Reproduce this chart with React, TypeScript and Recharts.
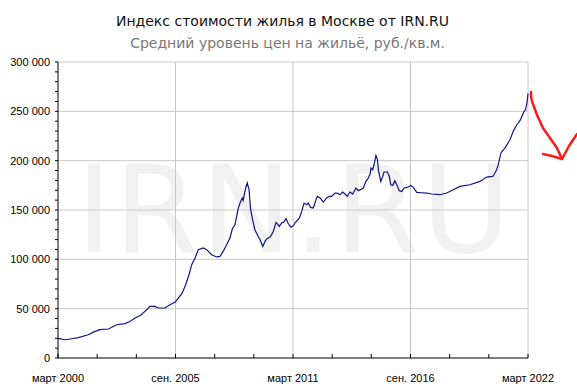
import { LineChart, Line, XAxis, YAxis, CartesianGrid } from 'recharts'

// months since March 2000
const months = [
  0, 3.9, 7.7, 11.4, 17, 20.8, 23.6, 28.3, 33, 37.6, 40.4, 43.3, 46.6, 50.9, 51.5, 54.5, 56.2, 60.1,
  62.9, 65.7, 67.6, 69.8, 71.7, 73.6, 75.1, 77, 78.8, 81.6, 83.5, 86.3, 89.1, 91, 92.8, 94.7, 96.6,
  97.9, 99.4, 101.3, 102.6, 103.5, 104, 105.4, 106.3, 107.3, 108.2, 109.3, 110.6, 112.5, 113.5, 115,
  116.3, 117.2, 119.1, 120, 120.9, 122.5, 123.2, 124.3, 125.6, 126.6, 128.1, 129.4, 130.7, 132.2,
  133.1, 135.6, 136.9, 138.2, 139.7, 140.6, 141.9, 143.4, 144.9, 145.7, 147.2, 149, 150.9, 152.4,
  153.7, 155.6, 156.9, 158.4, 159.9, 161.2, 162.5, 164, 165.5, 167.4, 168.7, 170, 171.5, 173, 174.3,
  175.3, 175.8, 176.8, 177.7, 178.6, 179.4, 180.1, 181.3, 182.4, 183.1, 185, 186.1, 186.9, 188,
  189.2, 190.3, 191.7, 193.1, 194.4, 196.2, 198.1, 199.6, 201.5, 204.3, 207.1, 209.9, 214.6, 218.3,
  222, 225.8, 231.4, 237, 240.8, 244.2, 245.1, 246.4, 247.3, 248.8, 251, 253.9, 255.7, 257.7, 259.5,
  261.4, 262.7, 263.4, 264,
]

// руб./кв.м.
const prices = [
  19800, 18500, 19500, 20600, 23600, 27000, 28700, 29400, 33700, 34800, 37000, 40500, 43600, 50700,
  52300, 52300, 50700, 50700, 54000, 56400, 60800, 65900, 74300, 84400, 94600, 101400, 109800,
  111500, 109800, 104700, 102400, 103000, 108000, 114800, 121600, 130700, 135000, 152000, 158700,
  162200, 159700, 172300, 177400, 170600, 150300, 140200, 130000, 123200, 119900, 113100, 118200,
  120600, 122600, 125000, 128300, 137400, 136000, 133400, 136800, 137400, 141200, 136000, 132800,
  134000, 136800, 141900, 148600, 157000, 155400, 157000, 152600, 152000, 160400, 163800, 162200,
  158000, 162200, 163800, 163800, 167200, 167200, 165500, 168200, 166200, 163800, 168200, 166200,
  172300, 169600, 170600, 172300, 179000, 182400, 186500, 192600, 190800, 197600, 205300, 201000,
  189100, 179000, 184000, 188500, 188500, 184000, 175600, 174900, 179700, 175600, 169600, 168800,
  172300, 172900, 174900, 173000, 167800, 167500, 167200, 166200, 165500, 167200, 170600, 173900,
  175600, 179000, 183400, 184000, 186500, 190800, 196000, 207800, 212800, 221200, 229700, 236400,
  240500, 248300, 252400, 258000, 268000,
]

const xTicks = [0, 22, 44, 66, 88, 110, 132, 154, 176, 198, 220, 242, 264]
const xLabels: Record<number, string> = {
  0: 'март 2000',
  66: 'сен. 2005',
  132: 'март 2011',
  198: 'сен. 2016',
  264: 'март 2022',
}
const yTicks = Array.from({ length: 31 }, (_, i) => i * 10000)
const yGrid = [50000, 100000, 150000, 200000, 250000, 300000]
const xGrid = [66, 132, 198, 264]

const data = months.map((m, i) => ({ m, price: prices[i] }))

function formatPrice(v: number) {
  if (v % 50000 !== 0) return ''
  if (v === 0) return '0'
  return `${v / 1000}\u00a0000`
}

export default function App() {
  const tickStyle = { fill: '#000', fontSize: 11, fontFamily: 'Liberation Sans, Arial, sans-serif' }
  return (
    <div style={{ position: 'absolute', left: 0, top: 0, width: 577, height: 391, background: '#fff' }}>
      <svg width={577} height={391} style={{ position: 'absolute', left: 0, top: 0 }}>
        <text
          x={76}
          y={252}
          fontSize={122}
          letterSpacing={2}
          fontFamily="DejaVu Sans, sans-serif"
          fill="#f1f1f1"
        >
          IRN.RU
        </text>
      </svg>
      <div
        style={{
          position: 'absolute',
          left: -6,
          top: 13,
          width: 577,
          textAlign: 'center',
          fontFamily: 'DejaVu Sans, Verdana, sans-serif',
          fontSize: 14,
          color: '#111',
          whiteSpace: 'nowrap',
        }}
      >
        Индекс стоимости жилья в Москве от IRN.RU
      </div>
      <div
        style={{
          position: 'absolute',
          left: -1,
          top: 35,
          width: 577,
          textAlign: 'center',
          fontFamily: 'DejaVu Sans, Verdana, sans-serif',
          fontSize: 14,
          color: '#777',
          whiteSpace: 'nowrap',
        }}
      >
        Средний уровень цен на жильё, руб./кв.м.
      </div>
      <div style={{ position: 'absolute', left: 0, top: 0 }}>
        <LineChart width={577} height={391} data={data} margin={{ top: 62, right: 49, left: 0, bottom: 3 }}>
          <CartesianGrid stroke="#c8c8c8" horizontalValues={yGrid} verticalValues={xGrid} />
          <XAxis
            dataKey="m"
            type="number"
            domain={[0, 264]}
            ticks={xTicks}
            interval={0}
            tickFormatter={(v: number) => xLabels[v] ?? ''}
            axisLine={{ stroke: '#000' }}
            tickLine={{ stroke: '#000' }}
            tickSize={-4}
            tickMargin={20}
            height={30}
            tick={tickStyle}
          />
          <YAxis
            type="number"
            domain={[0, 300000]}
            ticks={yTicks}
            interval={0}
            tickFormatter={formatPrice}
            axisLine={{ stroke: '#000' }}
            tickLine={{ stroke: '#000' }}
            tickSize={3}
            tickMargin={5}
            width={58}
            tick={tickStyle}
          />
          <Line
            type="linear"
            dataKey="price"
            stroke="#13138a"
            strokeWidth={1.2}
            dot={false}
            isAnimationActive={false}
          />
        </LineChart>
      </div>
      <svg width={577} height={391} style={{ position: 'absolute', left: 0, top: 0, pointerEvents: 'none' }}>
        <path
          d="M531 92 Q531 100 533 104 L537 115 L543 128 L550 138 L557 148 L562 159"
          fill="none"
          stroke="#ff1a1a"
          strokeWidth={2.5}
          strokeLinecap="round"
          strokeLinejoin="round"
        />
        <path
          d="M543 154 L552 156 L562 159 L569 146 L577 134"
          fill="none"
          stroke="#ff1a1a"
          strokeWidth={2.5}
          strokeLinecap="round"
          strokeLinejoin="round"
        />
      </svg>
    </div>
  )
}
